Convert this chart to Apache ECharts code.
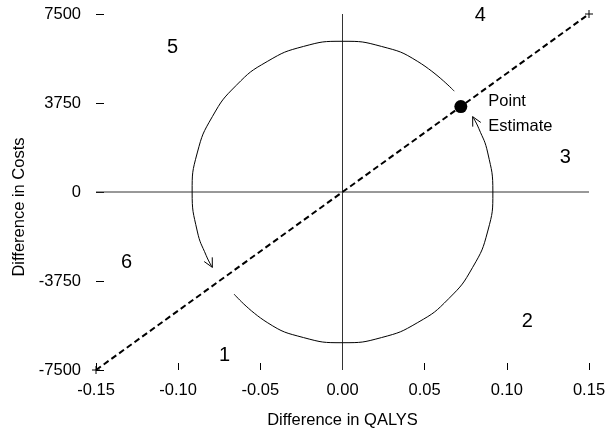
<!DOCTYPE html>
<html><head><meta charset="utf-8">
<script src="https://cdn.jsdelivr.net/npm/echarts@6/dist/echarts.min.js"></script>
<style>html,body{margin:0;padding:0;background:#fff}#c{width:609px;height:435px}</style>
</head><body><div id="c"></div>
<script>
// Axis settings
const xMin = -0.15, xMax = 0.15, xStep = 0.05;
const yMin = -7500, yMax = 7500, yStep = 3750;
const xTitle = 'Difference in QALYS';
const yTitle = 'Difference in Costs';

// Dashed threshold line (through origin)
const thresholdLine = [[-0.15, -7500], [0.15, 7500]];

// Point estimate
const pointEstimate = [0.072, 3600];
const pointLabel = 'Point\nEstimate';

// Arc 1: from lower-left, around the bottom and right side up to the point estimate
const arc1 = [[-0.066, -4300], [-0.0458, -5499], [-0.0237, -6134], [0, -6350],
  [0.0237, -6134], [0.0458, -5499], [0.0647, -4490], [0.0792, -3175], [0.0884, -1644],
  [0.0915, 0], [0.0884, 1644], [0.0829, 2684], [0.0792, 3175]];
// Arc 2: from the point estimate over the top and down the left side
const arc2 = [[0.068, 4249], [0.0458, 5499], [0.0237, 6134], [0, 6350], [-0.0237, 6134],
  [-0.0458, 5499], [-0.0647, 4490], [-0.0792, 3175], [-0.0884, 1644], [-0.0915, 0],
  [-0.0884, -1644], [-0.0829, -2684], [-0.0792, -3175]];

// Region numbers
const regionText = ['1', '2', '3', '4', '5', '6'];
const regionX = [-0.0718, 0.1125, 0.1356, 0.0839, -0.1034, -0.1314];
const regionY = [-6880, -5450, 1470, 7420, 6096, -2960];

const FONT = 'Liberation Sans, Arial, Helvetica, sans-serif';
const chart = echarts.init(document.getElementById('c'), null, {renderer: 'canvas'});

function arrowData(arc) {
  const a = arc[arc.length - 2], b = arc[arc.length - 1];
  return [a[0], a[1], b[0], b[1]];
}

const option = {
  animation: false,
  backgroundColor: '#fff',
  textStyle: {fontFamily: FONT},
  grid: {left: 96, right: 20, top: 14, bottom: 65, containLabel: false},
  xAxis: {
    type: 'value', min: xMin, max: xMax, interval: xStep,
    axisLine: {show: false, onZero: false},
    axisTick: {show: true, inside: true, length: 7, lineStyle: {color: '#000', width: 1}},
    splitLine: {show: false},
    axisLabel: {color: '#000', fontSize: 16.5, fontFamily: FONT, margin: 12,
      formatter: v => v.toFixed(2)},
    name: xTitle, nameLocation: 'middle', nameGap: 42,
    nameTextStyle: {color: '#000', fontSize: 16.5, fontFamily: FONT}
  },
  yAxis: {
    type: 'value', min: yMin, max: yMax, interval: yStep,
    axisLine: {show: false, onZero: false},
    axisTick: {show: true, inside: true, length: 8, lineStyle: {color: '#000', width: 1}},
    splitLine: {show: false},
    axisLabel: {color: '#000', fontSize: 16.5, fontFamily: FONT, margin: 15,
      formatter: v => String(Math.round(v))},
    name: yTitle, nameLocation: 'middle', nameGap: 68,
    nameTextStyle: {color: '#000', fontSize: 16.5, fontFamily: FONT, padding: [0, 30, 0, 0]}
  },
  series: [
    {type: 'line', data: [[xMin, 0], [xMax, 0]], symbol: 'none',
      lineStyle: {color: '#333', width: 1}, silent: true},
    {type: 'line', data: [[0, yMin], [0, yMax]], symbol: 'none',
      lineStyle: {color: '#333', width: 1}, silent: true},
    {type: 'line', data: arc1, symbol: 'none', smooth: 0.5,
      lineStyle: {color: '#000', width: 1}},
    {type: 'line', data: arc2, symbol: 'none', smooth: 0.5,
      lineStyle: {color: '#000', width: 1}},
    {type: 'line', data: thresholdLine, symbol: 'none',
      lineStyle: {color: '#000', width: 2, type: [6, 3.5]}},
    {type: 'custom', data: [arrowData(arc1), arrowData(arc2)],
      renderItem: function (params, api) {
        const p0 = api.coord([api.value(0), api.value(1)]);
        const p1 = api.coord([api.value(2), api.value(3)]);
        let dx = p1[0] - p0[0], dy = p1[1] - p0[1];
        const L = Math.hypot(dx, dy); dx /= L; dy /= L;
        const len = 10, ang = 27 * Math.PI / 180;
        const bx = -dx, by = -dy;
        const c = Math.cos(ang), s = Math.sin(ang);
        const l = [p1[0] + len * (bx * c - by * s), p1[1] + len * (bx * s + by * c)];
        const r = [p1[0] + len * (bx * c + by * s), p1[1] + len * (-bx * s + by * c)];
        return {type: 'polyline', shape: {points: [l, p1, r]},
          style: {stroke: '#000', lineWidth: 1, fill: null}};
      }},
    {type: 'custom', data: thresholdLine,
      renderItem: function (params, api) {
        const p = api.coord([api.value(0), api.value(1)]);
        const h = 4;
        return {type: 'group', children: [
          {type: 'line', shape: {x1: p[0] - h, y1: p[1], x2: p[0] + h, y2: p[1]}, style: {stroke: '#000', lineWidth: 1}},
          {type: 'line', shape: {x1: p[0], y1: p[1] - h, x2: p[0], y2: p[1] + h}, style: {stroke: '#000', lineWidth: 1}}
        ]};
      }},
    {type: 'scatter', data: [pointEstimate], symbol: 'circle', symbolSize: 13,
      itemStyle: {color: '#000', opacity: 1},
      label: {show: true, position: 'right', distance: 21, formatter: pointLabel,
        color: '#000', fontSize: 16.5, fontFamily: FONT, lineHeight: 25, offset: [0, 7], align: 'left'}},
    {type: 'scatter', symbolSize: 1, symbol: 'circle',
      itemStyle: {color: 'rgba(0,0,0,0)', opacity: 1},
      data: regionText.map((t, i) => ({value: [regionX[i], regionY[i]], name: t})),
      label: {show: true, position: 'inside', formatter: p => p.name,
        color: '#000', fontSize: 20, fontFamily: FONT, opacity: 1}}
  ]
};
chart.setOption(option);
</script></body></html>
